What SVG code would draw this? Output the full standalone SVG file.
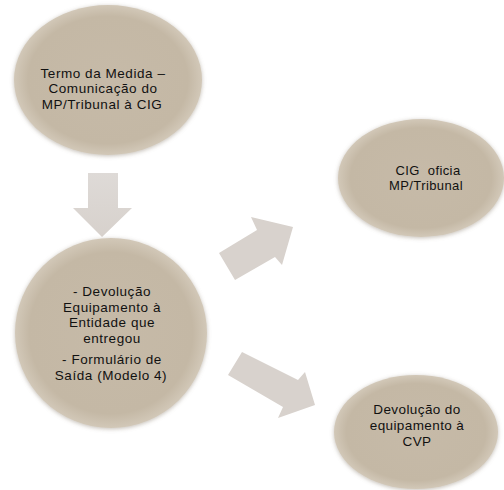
<svg xmlns="http://www.w3.org/2000/svg" width="504" height="490" viewBox="0 0 504 490">
<defs>
<radialGradient id="eg" cx="50%" cy="50%" r="50%">
<stop offset="0" stop-color="#c6baa8"/>
<stop offset="0.85" stop-color="#c4b8a5"/>
<stop offset="1" stop-color="#d2c8b8"/>
</radialGradient>
<linearGradient id="ag" x1="0" y1="0" x2="0" y2="1">
<stop offset="0" stop-color="#dedad7"/>
<stop offset="1" stop-color="#d7d1cc"/>
</linearGradient>
<filter id="sh" x="-10%" y="-10%" width="120%" height="120%">
<feGaussianBlur in="SourceAlpha" stdDeviation="2"/>
<feOffset dy="1" result="b"/>
<feFlood flood-color="#8a7e6e" flood-opacity="0.5"/>
<feComposite in2="b" operator="in"/>
<feMerge><feMergeNode/><feMergeNode in="SourceGraphic"/></feMerge>
</filter>
</defs>
<style>
.node ellipse{fill:url(#eg);filter:url(#sh);}
.t{font-family:"Liberation Sans",Arial,sans-serif;fill:#111;text-anchor:middle;}
.big{font-size:13.5px;letter-spacing:0.55px;}
.arrow{fill:#d8d2cd;}
</style>
<rect width="504" height="490" fill="#ffffff"/>
<g id="connectors">
<polygon class="arrow" style="fill:url(#ag)" points="88,173 118,173 118,208 132,208 102,237 73,208 88,208"/>
<polygon class="arrow" points="219,253 257,230 251,217 293,227 282,265 275,257 235,280"/>
<polygon class="arrow" points="242,352 298,380 305,372 315,405 278,418 283,407 228,375"/>
</g>
<g id="node1" class="node">
<ellipse cx="108" cy="80" rx="94" ry="75"/>
<text class="t big"><tspan x="103" y="77.5">Termo da Medida –</tspan><tspan x="103" y="93">Comunicação do</tspan><tspan x="102" y="108.5">MP/Tribunal à CIG</tspan></text>
</g>
<g id="node2" class="node">
<ellipse cx="111" cy="333" rx="96" ry="95"/>
<text class="t big"><tspan x="112" y="296">- Devolução</tspan><tspan x="112" y="311.5">Equipamento à</tspan><tspan x="112" y="327">Entidade que</tspan><tspan x="112" y="342.5">entregou</tspan><tspan x="112" y="364">- Formulário de</tspan><tspan x="111" y="379.5">Saída (Modelo 4)</tspan></text>
</g>
<g id="node3" class="node">
<ellipse cx="421" cy="178" rx="83" ry="59"/>
<text class="t" font-size="13" style="white-space:pre" letter-spacing="0.4"><tspan x="428" y="175">CIG  oficia</tspan><tspan x="426" y="190">MP/Tribunal</tspan></text>
</g>
<g id="node4" class="node">
<ellipse cx="416" cy="432" rx="82" ry="57"/>
<text class="t" font-size="13.5" letter-spacing="0.4"><tspan x="417" y="414">Devolução do</tspan><tspan x="417" y="430">equipamento à</tspan><tspan x="417" y="446">CVP</tspan></text>
</g>
</svg>
